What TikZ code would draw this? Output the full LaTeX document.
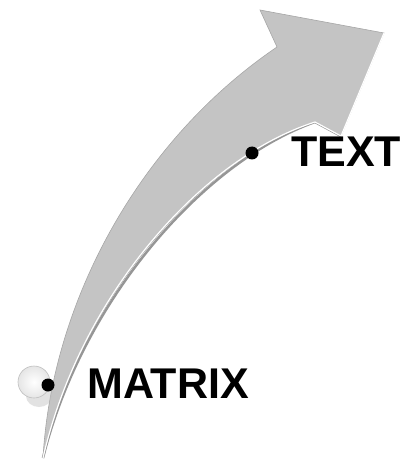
\documentclass[tikz,border=0pt]{standalone}
\usepackage{fontspec}
\setmainfont{Liberation Sans}
\usepackage{tikz}
\usetikzlibrary{positioning,calc}
\definecolor{arrowgray}{RGB}{196,196,196}
\definecolor{edgegray}{RGB}{150,150,150}

\begin{document}
\begin{tikzpicture}[
    x=1pt, y=-1pt,
    bullet/.style={circle, fill=black, inner sep=0pt, minimum size=13pt},
    label/.style={font=\fontsize{43}{43}\selectfont\bfseries, inner sep=0pt, anchor=west},
  ]
  \useasboundingbox (0,0) rectangle (410,462);

  % === Arrow outline points ===
  \coordinate (tail)  at (43,458);
  \coordinate (neck)  at (277,47);
  \coordinate (back)  at (260,10);
  \coordinate (tip)   at (384,33);
  \coordinate (foot)  at (341,136);
  \coordinate (barb)  at (315,122);

  % Shadow under the inner edge
  \draw[edgegray, line width=2.5pt, shift={(1.5,2.5)}]
    (foot) -- (barb) .. controls (200,160) and (80,300) .. (tail);

  % Arrow body
  \fill[arrowgray, draw=gray!70, line width=0.6pt]
    (tail) .. controls (52,300) and (140,140) .. (neck)
    -- (back) -- (tip) -- (foot) -- (barb)
    .. controls (200,160) and (80,300) .. (tail) -- cycle;

  % Bevel highlight
  \draw[white, line width=1.2pt, line join=round, shift={(-0.8,-1)}]
    (tip) -- (foot) -- (barb) .. controls (200,160) and (80,300) .. (tail);

  % === Ball at the start ===
  \fill[gray!50, opacity=0.45] (39,396) ellipse (13 and 11);
  \shade[inner color=white, outer color=gray!20, draw=gray!50, line width=0.6pt]
    (34,382) circle (16);

  % === Points and labels ===
  \node[bullet] (start) at (48,385) {};
  \node[bullet] (end) at (252,153) {};
  \node[label] (matrix) at (87,384) {MATRIX};
  \node[label] (text) at (291,152) {TEXT};

\end{tikzpicture}
\end{document}
